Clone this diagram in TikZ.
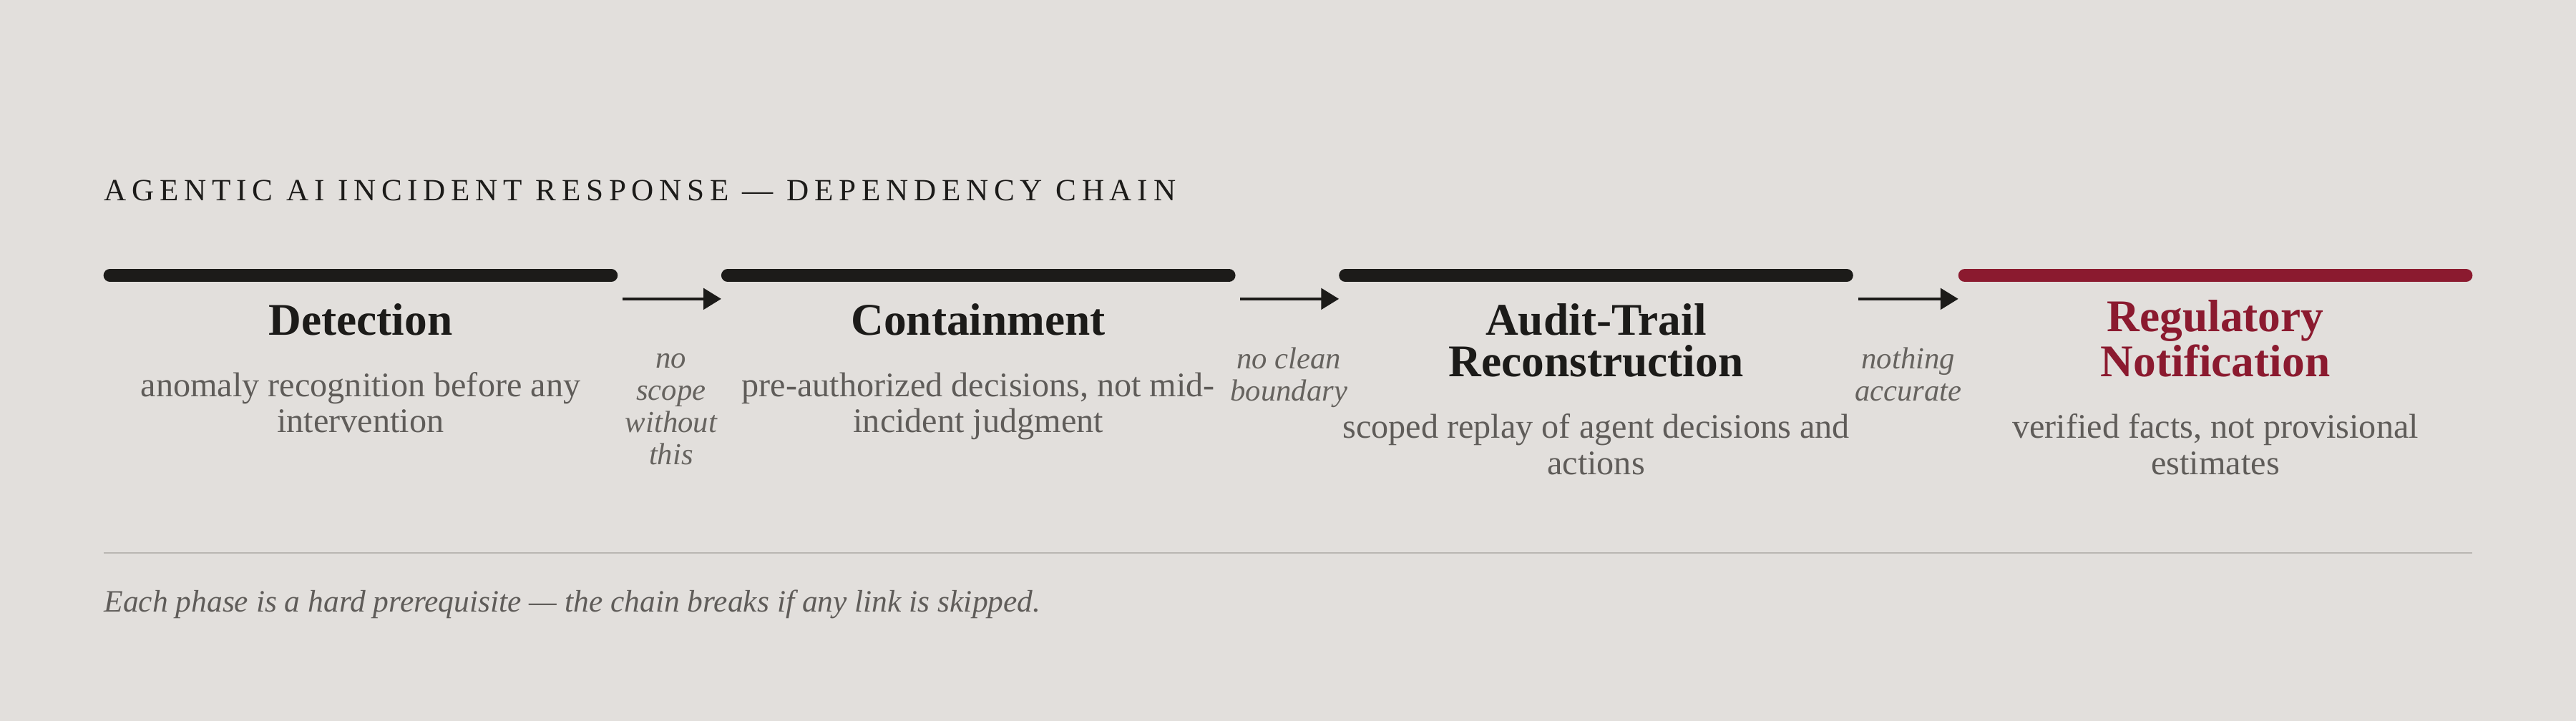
\documentclass[tikz,border=0pt]{standalone}
\usepackage{fontspec}
\setmainfont{Liberation Serif}
\usetikzlibrary{arrows.meta}
\definecolor{bgc}{HTML}{E2DFDC}
\definecolor{ink}{HTML}{1C1B19}
\definecolor{wine}{HTML}{8B1A2F}
\definecolor{descgray}{HTML}{5F5C59}
\definecolor{gapgray}{HTML}{66635F}
\definecolor{rulegray}{HTML}{B9B6B2}
\tikzset{
  phasebar/.style={line width=3.9pt, line cap=round, draw=ink},
  link/.style={draw=ink, line width=0.87pt, -{Triangle[length=5.4pt,width=6.4pt]}},
  phase/.style={font=\fontsize{13.8}{12.75}\selectfont\bfseries, text=ink, align=center, anchor=base, inner sep=0pt},
  desc/.style={font=\fontsize{10.5}{11}\selectfont, text=descgray, align=center, anchor=base, inner sep=0pt},
  gaplabel/.style={font=\fontsize{9.3}{9.8}\selectfont\itshape, text=gapgray, align=center, anchor=base, inner sep=0pt},
}
\begin{document}
\begin{tikzpicture}[x=0.5pt,y=-0.5pt]
\fill[bgc] (0,0) rectangle (1568,439);
\useasboundingbox (0,0) rectangle (1568,439);
% title
\node[anchor=base west, inner sep=0pt, text=ink, font={\fontsize{9.4}{11}\selectfont\addfontfeature{LetterSpace=18}}] (title) at (63,122) {AGENTIC AI INCIDENT RESPONSE — DEPENDENCY CHAIN};
% bars
\coordinate (b1s) at (66.9,167.7); \coordinate (b1e) at (372.1,167.7);
\coordinate (b2s) at (442.9,167.7); \coordinate (b2e) at (748.1,167.7);
\coordinate (b3s) at (818.9,167.7); \coordinate (b3e) at (1124.1,167.7);
\coordinate (b4s) at (1195.9,167.7); \coordinate (b4e) at (1501.1,167.7);
\draw[phasebar] (b1s) -- (b1e);
\draw[phasebar] (b2s) -- (b2e);
\draw[phasebar] (b3s) -- (b3e);
\draw[phasebar, draw=wine] (b4s) -- (b4e);
% arrows
\coordinate (a1s) at (379,182); \coordinate (a1e) at (439,182);
\coordinate (a2s) at (755,182); \coordinate (a2e) at (815,182);
\coordinate (a3s) at (1131,182); \coordinate (a3e) at (1192,182);
\draw[link] (a1s) -- (a1e);
\draw[link] (a2s) -- (a2e);
\draw[link] (a3s) -- (a3e);
% headings (base = last line's baseline)
\node[phase] (h1) at (219.5,204) {Detection};
\node[phase] (h2) at (595.5,204) {Containment};
\node[phase] (h3) at (971.5,229.5) {Audit-Trail\\Reconstruction};
\node[phase, text=wine] (h4) at (1348.5,229.5) {Regulatory\\Notification};
% descriptions
\node[desc] (d1) at (219.5,263.5) {anomaly recognition before any\\intervention};
\node[desc] (d2) at (595.5,263.5) {pre-authorized decisions, not mid-\\incident judgment};
\node[desc] (d3) at (971.5,288.9) {scoped replay of agent decisions and\\actions};
\node[desc] (d4) at (1348.5,288.9) {verified facts, not provisional\\estimates};
% gap labels
\node[gaplabel] (g1) at (408.5,283) {no\\scope\\without\\this};
\node[gaplabel] (g2) at (784.5,244) {no clean\\boundary};
\node[gaplabel] (g3) at (1161.5,244) {nothing\\accurate};
% rule and footer
\coordinate (rs) at (63,336.8); \coordinate (re) at (1505,336.8);
\draw[rulegray, line width=0.45pt] (rs) -- (re);
\node[anchor=base west, inner sep=0pt, text=descgray, font=\fontsize{9.47}{12}\selectfont\itshape] (foot) at (63,372.4) {Each phase is a hard prerequisite — the chain breaks if any link is skipped.};
\end{tikzpicture}
\end{document}
